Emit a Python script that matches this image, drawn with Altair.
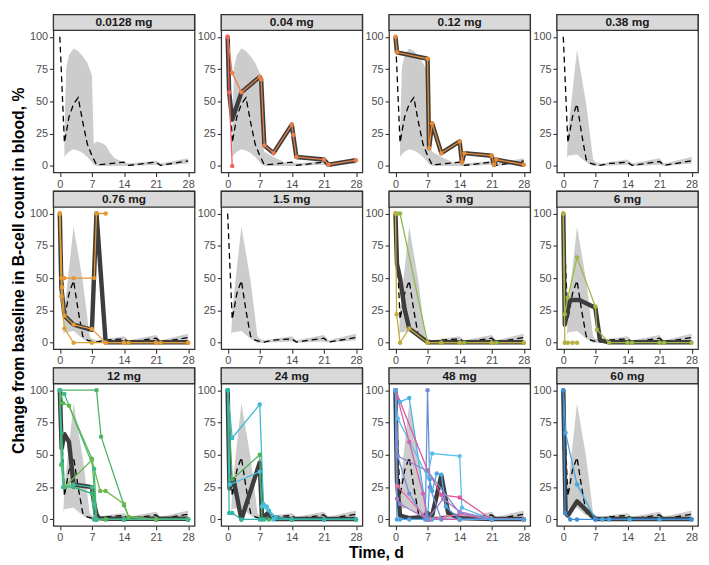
import altair as alt
import pandas as pd

FONT = "Liberation Sans"
Y_TITLE = "Change from baseline in B-cell count in blood, %"
X_TITLE = "Time, d"

DOSE_LABELS = ["0.0128 mg", "0.04 mg", "0.12 mg", "0.38 mg",
               "0.76 mg", "1.5 mg", "3 mg", "6 mg",
               "12 mg", "24 mg", "48 mg", "60 mg"]

X_TICKS = [0, 7, 14, 21, 28]
Y_TICKS = [0, 25, 50, 75, 100]

# ---- grey prediction band (three shapes) ----
BAND_A_DAY = [1, 1.4, 2, 3, 4, 5, 6, 7, 7.4, 8, 9, 10, 11, 12, 14, 15, 21, 22, 28]
BAND_A_LO = [7, 9, 11, 13, 12, 10, 7, 3, 1, 0, 0, 0, 0, 0, 0, 0, 1, 0, 2]
BAND_A_HI = [25, 76, 86, 91, 89, 85, 80, 70, 17, 19, 18, 16, 10, 6, 3, 2, 4, 2, 6]

BAND_C_DAY = [1, 1.4, 2, 3, 4, 5, 6, 7, 7.4, 8, 10, 12.5, 14, 15, 21, 22, 28]
BAND_C_LO = [7, 9, 11, 13, 12, 10, 7, 3, 1, 0, 0, 0, 0, 0, 1, 0, 2]
BAND_C_HI = [25, 76, 86, 91, 89, 85, 80, 72, 20, 11, 7, 3, 3, 2, 4, 2, 6]

BAND_B_DAY = [0.8, 1, 3, 5, 6.5, 7, 8, 14, 15, 21, 22, 28]
BAND_B_LO = [6, 8, 9, 3, 0, 0, 0, 1, 0, 1, 0, 2]
BAND_B_HI = [8, 25, 90, 48, 5, 3, 2, 5, 2, 6, 2, 7]

# ---- dashed reference median ----
DASH_A_DAY = [0, 1, 2, 3, 4, 5, 6, 7, 8, 10, 14, 15, 21, 22, 28]
DASH_A_VAL = [100, 18, 38, 48, 53, 34, 17, 8, 1, 1.5, 3, 0.5, 3, 0.5, 4]
DASH_B_DAY = [0, 1, 2, 3, 4, 5, 6, 7, 8, 10, 14, 15, 21, 22, 28]
DASH_B_VAL = [100, 18, 38, 48, 25, 5, 2, 1, 0.5, 2, 3, 0.5, 3.5, 0.5, 4]

# ---- 0.04 mg ----
P2_S1_DAY = [0, 1, 3, 7, 7.3, 8, 10, 14, 14.3, 15, 21, 22, 28]
P2_S1_VAL = [100, 72, 57, 69, 67, 16, 10, 32, 24, 7, 5, 1, 4.5]
P2_S2_DAY = [0, 0.33, 1]
P2_S2_VAL = [100, 57, 0]
P2_MED_DAY = [0, 0.33, 1, 3, 7, 7.3, 8, 10, 14, 14.3, 15, 21, 22, 28]
P2_MED_VAL = [100, 57, 36, 57, 69, 67, 16, 10, 32, 24, 7, 5, 1, 4.5]

# ---- 0.12 mg ----
P3_S1_DAY = [0, 0.33, 7, 7.33, 8, 10, 14, 14.5, 15, 21, 21.5, 22, 28]
P3_S1_VAL = [100, 88, 83, 14, 33, 10, 19, 3, 10, 8, 1, 5, 1]
P3_MED_DAY = [0, 0.33, 7, 7.33, 8, 10, 14, 14.5, 15, 21, 21.5, 22, 28]
P3_MED_VAL = [100, 88, 83, 14, 33, 10, 19, 3, 10, 8, 1, 5, 1]

# ---- 0.76 mg ----
P5_S1_DAY = [0, 0.33, 1, 3, 7.5, 8, 10]
P5_S1_VAL = [100, 50, 50, 50, 50, 100, 100]
P5_S2_DAY = [0, 0.33, 1, 3, 7, 10, 14, 15, 21, 22, 28]
P5_S2_VAL = [100, 36, 11, 0, 0, 0, 0, 0, 0, 0, 0]
P5_S3_DAY = [0, 0.5, 1, 3, 7, 10, 14, 21, 28]
P5_S3_VAL = [100, 43, 21, 14, 10.6, 0, 0, 0, 0]
P5_MED_DAY = [0, 0.33, 1, 3, 7, 8, 10, 14, 21, 28]
P5_MED_VAL = [100, 43, 21, 14, 10, 100, 0.3, 0.3, 0.3, 0.3]

# ---- 3 mg ----
P7_S1_DAY = [0, 0.33, 1, 7, 10, 14, 15, 21, 22, 28]
P7_S1_VAL = [100, 100, 100, 0, 0, 0, 0, 0, 0, 0]
P7_S2_DAY = [0, 0.25, 1, 3, 7, 10, 14, 21, 28]
P7_S2_VAL = [100, 22, 0, 11, 0, 0, 0, 0, 0]
P7_MED_DAY = [0, 0.33, 1, 2, 3, 7, 10, 14, 21, 28]
P7_MED_VAL = [100, 61, 50, 26, 11, 0.3, 0.3, 0.3, 0.3, 0.3]

# ---- 6 mg ----
P8_S1_DAY = [0, 0.33, 1, 3, 7, 7.33, 10, 14, 15, 21, 22, 28]
P8_S1_VAL = [100, 22, 35, 66, 28, 10, 0, 0, 0, 0, 0, 0]
P8_S2_DAY = [0, 0.33, 1, 2, 3]
P8_S2_VAL = [100, 0, 0, 0, 0]
P8_MED_DAY = [0, 0.33, 1.4, 3.5, 7, 8, 10, 14, 21, 28]
P8_MED_VAL = [100, 14, 33, 33, 27, 2, 0.3, 0.3, 0.3, 0.3]

# ---- 12 mg ----
P9_S1_DAY = [0, 8, 9, 14, 15, 21, 28]
P9_S1_VAL = [100, 100, 64, 11, 2, 0, 0]
P9_S2_DAY = [0, 1, 7.5, 8, 10, 14, 21, 28]
P9_S2_VAL = [100, 97, 39, 0, 0, 0, 0, 0]
P9_S3_DAY = [0, 0.7, 2, 7, 8, 10, 14, 21, 28]
P9_S3_VAL = [100, 90, 88, 47, 0, 0, 0, 0, 0]
P9_S4_DAY = [0, 0.4, 1, 3, 7, 7.5, 8, 14, 21, 28]
P9_S4_VAL = [100, 67, 25, 25, 20, 0, 0, 0, 0, 0]
P9_S5_DAY = [0, 0.33, 1, 7, 8.8, 10, 14, 15, 21, 28]
P9_S5_VAL = [100, 42, 25, 46, 22, 22, 12, 2, 0, 0]
P9_S6_DAY = [0, 0.4, 0.7, 3, 7, 7.5, 8, 14, 28]
P9_S6_VAL = [100, 43, 25, 27, 25, 12, 0, 0, 0]
P9_MED_DAY = [0, 0.4, 1, 2, 3, 7, 7.5, 8, 8.5, 10, 14, 21, 28]
P9_MED_VAL = [100, 55, 66, 60, 27, 25, 12, 4, 1, 0.5, 0.5, 0.5, 0.5]

# ---- 24 mg ----
P10_S1_DAY = [0, 1, 7, 7.8, 8.5, 9, 10.5, 14, 21, 28]
P10_S1_VAL = [100, 63, 89, 12, 10, 7, 2, 0, 0, 0]
P10_S2_DAY = [0, 0.5, 7, 7.5, 8.5, 10, 14, 21, 28]
P10_S2_VAL = [100, 27, 37, 10, 9, 0, 0, 0, 0]
P10_S3_DAY = [0, 1, 7, 7.5, 9, 14, 28]
P10_S3_VAL = [100, 31, 50, 0, 0, 0, 0]
P10_S4_DAY = [0, 0.33, 1, 3, 7, 8, 14, 21, 28]
P10_S4_VAL = [100, 5, 5, 0, 0, 0, 0, 0, 0]
P10_MED_DAY = [0, 0.4, 1.3, 3, 7, 7.5, 8.8, 9.6, 10.5, 14, 21, 28]
P10_MED_VAL = [100, 24, 31, 0, 44, 1, 5, 1, 0.3, 0.3, 0.3, 0.3]

# ---- 48 mg ----
P11_S1_DAY = [0, 1, 3, 7, 7.5, 8, 14, 21, 28]
P11_S1_VAL = [100, 91, 94, 0, 0, 0, 0, 0, 0]
P11_S2_DAY = [0, 0.5, 3, 6.5, 7, 7.5, 10, 14, 21, 28]
P11_S2_VAL = [100, 49, 20, 0, 100, 25, 0, 0, 0, 0]
P11_S3_DAY = [0, 0.5, 7, 8, 14, 14.5, 21, 28]
P11_S3_VAL = [100, 78, 33, 51, 49, 9, 0, 0]
P11_S4_DAY = [0, 7, 10, 14, 21, 28]
P11_S4_VAL = [100, 38, 19, 17, 0, 0]
P11_S5_DAY = [0, 0.33, 7, 7.5, 14, 21, 28]
P11_S5_VAL = [100, 26, 0, 0, 4, 0, 0]
P11_S6_DAY = [0, 3, 6, 7, 14, 28]
P11_S6_VAL = [100, 60, 20, 0, 0, 0]
P11_S7_DAY = [0, 0.33, 1, 7, 10.4, 14, 21, 28]
P11_S7_VAL = [100, 16, 12, 0, 16, 6, 0, 0]
P11_S8_DAY = [0, 0.5, 7, 14, 21, 28]
P11_S8_VAL = [100, 49, 37.5, 5, 0, 0]
P11_S9_DAY = [0, 0.3, 1, 3, 7, 7.5, 8, 9, 10, 11, 14, 21, 28]
P11_S9_VAL = [100, 0, 0, 0, 0, 31, 22, 35.5, 34.7, 10, 0, 0, 0]
P11_MED_DAY = [0, 0.33, 1, 3, 6, 7, 7.5, 8, 10, 11.5, 14, 21, 28]
P11_MED_VAL = [100, 30, 3, 1, 2, 5, 3, 3, 34, 5, 1, 0.3, 0.3]

# ---- 60 mg ----
P12_S1_DAY = [0, 0.5, 3, 7, 8.5, 10, 14.5, 21, 28]
P12_S1_VAL = [100, 67, 27, 0, 0, 0, 0, 0, 0]
P12_S2_DAY = [0, 0.4, 1.5, 3, 7, 28]
P12_S2_VAL = [100, 5, 0, 0, 0, 0]
P12_MED_DAY = [0, 0.5, 1, 3, 7, 10, 14, 21, 28]
P12_MED_VAL = [100, 5, 3, 14, 0.3, 0.3, 0.3, 0.3, 0.3]

BANDS = {"A": (BAND_A_DAY, BAND_A_LO, BAND_A_HI),
         "C": (BAND_C_DAY, BAND_C_LO, BAND_C_HI),
         "B": (BAND_B_DAY, BAND_B_LO, BAND_B_HI)}
DASHES = {"A": (DASH_A_DAY, DASH_A_VAL), "B": (DASH_B_DAY, DASH_B_VAL)}

PANELS = [
    ("A", "A", None, []),
    ("C", "A", (P2_MED_DAY, P2_MED_VAL),
     [("#EC7F49", P2_S1_DAY, P2_S1_VAL), ("#F5645E", P2_S2_DAY, P2_S2_VAL)]),
    ("C", "A", (P3_MED_DAY, P3_MED_VAL), [("#EB8A33", P3_S1_DAY, P3_S1_VAL)]),
    ("B", "B", None, []),
    ("B", "B", (P5_MED_DAY, P5_MED_VAL),
     [("#E2972F", P5_S1_DAY, P5_S1_VAL), ("#D9A036", P5_S2_DAY, P5_S2_VAL),
      ("#E49C3A", P5_S3_DAY, P5_S3_VAL)]),
    ("B", "B", None, []),
    ("B", "B", (P7_MED_DAY, P7_MED_VAL),
     [("#8FBA4A", P7_S1_DAY, P7_S1_VAL), ("#C3AC3A", P7_S2_DAY, P7_S2_VAL)]),
    ("B", "B", (P8_MED_DAY, P8_MED_VAL),
     [("#9FB947", P8_S1_DAY, P8_S1_VAL), ("#B6B040", P8_S2_DAY, P8_S2_VAL)]),
    ("B", "B", (P9_MED_DAY, P9_MED_VAL),
     [("#4DB365", P9_S1_DAY, P9_S1_VAL), ("#3CB88A", P9_S2_DAY, P9_S2_VAL),
      ("#5DB84C", P9_S3_DAY, P9_S3_VAL), ("#33B57C", P9_S4_DAY, P9_S4_VAL),
      ("#6CBA4E", P9_S5_DAY, P9_S5_VAL), ("#45B896", P9_S6_DAY, P9_S6_VAL)]),
    ("B", "B", (P10_MED_DAY, P10_MED_VAL),
     [("#3CBBD0", P10_S1_DAY, P10_S1_VAL), ("#4BBFDF", P10_S2_DAY, P10_S2_VAL),
      ("#4EAF55", P10_S3_DAY, P10_S3_VAL), ("#2EB7A6", P10_S4_DAY, P10_S4_VAL)]),
    ("B", "B", (P11_MED_DAY, P11_MED_VAL),
     [("#45B4E8", P11_S1_DAY, P11_S1_VAL), ("#6B8FD6", P11_S2_DAY, P11_S2_VAL),
      ("#5CBEEB", P11_S3_DAY, P11_S3_VAL), ("#E2559A", P11_S4_DAY, P11_S4_VAL),
      ("#EE6BA4", P11_S5_DAY, P11_S5_VAL), ("#D45FAE", P11_S6_DAY, P11_S6_VAL),
      ("#A27CC9", P11_S7_DAY, P11_S7_VAL), ("#8E85CF", P11_S8_DAY, P11_S8_VAL),
      ("#4DA5E3", P11_S9_DAY, P11_S9_VAL)]),
    ("B", "B", (P12_MED_DAY, P12_MED_VAL),
     [("#45A8E2", P12_S1_DAY, P12_S1_VAL), ("#3F8CD8", P12_S2_DAY, P12_S2_VAL)]),
]

W = 143
H = 144
STRIP = 16
Y_LO, Y_HI = -5, 105
Y_TOP = Y_HI + STRIP * (Y_HI - Y_LO) / H
X_DOM = [-1.4, 29.4]


def make_panel(idx):
    band_key, dash_key, med, subjects = PANELS[idx]
    label = DOSE_LABELS[idx]
    xs = alt.Scale(domain=X_DOM, nice=False, zero=False)
    ys = alt.Scale(domain=[Y_LO, Y_TOP], nice=False, zero=False)
    xax = alt.Axis(values=X_TICKS, tickCount=10, title=None, labelOverlap=False)
    if idx == 4:
        yax = alt.Axis(values=Y_TICKS, tickCount=10, title=Y_TITLE,
                       labelOverlap=False)
    else:
        yax = alt.Axis(values=Y_TICKS, tickCount=10, title=None,
                       labelOverlap=False)

    bd, blo, bhi = BANDS[band_key]
    bdf = pd.DataFrame({"day": bd, "lo": blo, "hi": bhi})
    layers = [alt.Chart(bdf).mark_area(color="#cccccc").encode(
        x=alt.X("day:Q", scale=xs, axis=xax),
        y=alt.Y("lo:Q", scale=ys, axis=yax),
        y2="hi:Q")]

    dd, dv = DASHES[dash_key]
    ddf = pd.DataFrame({"day": dd, "val": dv})
    layers.append(alt.Chart(ddf).mark_line(color="black", strokeWidth=1.3,
                                            strokeDash=[6, 4]).encode(
        x="day:Q", y="val:Q"))

    if med is not None:
        mdf = pd.DataFrame({"day": med[0], "val": med[1]})
        layers.append(alt.Chart(mdf).mark_line(color="#3d3d3d", strokeWidth=4.5,
                                                strokeJoin="round").encode(
            x="day:Q", y="val:Q"))

    if subjects:
        rows = []
        for k, (col, ds, vs) in enumerate(subjects):
            for d, v in zip(ds, vs):
                rows.append({"day": d, "val": v, "subj": f"{idx}_{k}", "col": col})
        sdf = pd.DataFrame(rows)
        base = alt.Chart(sdf).encode(
            x="day:Q", y="val:Q",
            color=alt.Color("col:N", scale=None),
            detail="subj:N")
        layers.append(base.mark_line(strokeWidth=1.3))
        layers.append(base.mark_circle(size=20, opacity=1))

    ldf = pd.DataFrame({"label": [label]})
    layers.append(alt.Chart(ldf).mark_rect(fill="#d9d9d9", stroke="#333333",
                                            strokeWidth=1.3).encode(
        x=alt.value(0), x2=alt.value(W),
        y=alt.datum(Y_HI), y2=alt.datum(Y_TOP)))
    layers.append(alt.Chart(ldf).mark_text(font=FONT, fontSize=12,
                                            fontWeight="bold", color="#1a1a1a",
                                            baseline="middle").encode(
        x=alt.value(W / 2), y=alt.datum((Y_HI + Y_TOP) / 2), text="label:N"))

    return alt.layer(*layers).properties(width=W, height=H + STRIP)


panels = [make_panel(i) for i in range(len(DOSE_LABELS))]

chart = alt.concat(*panels, columns=4, spacing={"row": 19, "column": 27},
                   bounds="flush").properties(
    title=alt.TitleParams(X_TITLE, orient="bottom", anchor="middle",
                          fontSize=16, fontWeight="bold", font=FONT,
                          color="black", offset=2, dx=22),
    padding={"left": 1, "top": 1, "right": 1, "bottom": 1},
).configure_view(
    stroke="#333333", strokeWidth=1.3
).configure_axis(
    grid=False, domain=False, tickColor="#333333", tickSize=4, tickWidth=1.1,
    labelFont=FONT, labelFontSize=11, labelColor="#4d4d4d", labelPadding=2,
    labelOverlap=False,
    titleFont=FONT, titleFontSize=16, titleFontWeight="bold",
    titleColor="black", titlePadding=3
)

chart.save("out.html", embed_options={"renderer": "svg", "actions": False})
